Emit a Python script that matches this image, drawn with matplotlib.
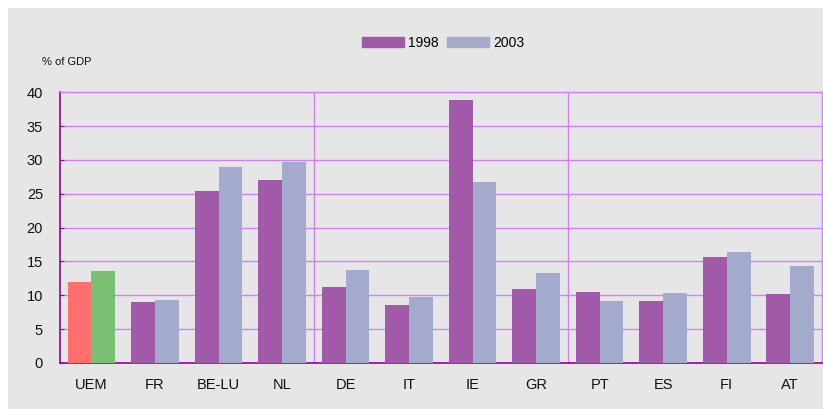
import numpy as np
import matplotlib.pyplot as plt
from matplotlib.patches import Rectangle, Patch

# Values
categories = ['UEM', 'FR', 'BE-LU', 'NL', 'DE', 'IT', 'IE', 'GR', 'PT', 'ES', 'FI', 'AT']
values_1998 = [12.0, 9.0, 25.4, 27.0, 11.2, 8.6, 38.9, 10.9, 10.5, 9.2, 15.7, 10.2]
values_2003 = [13.6, 9.3, 29.0, 29.7, 13.7, 9.8, 26.8, 13.3, 9.2, 10.4, 16.4, 14.4]
y_ticks = [0, 5, 10, 15, 20, 25, 30, 35, 40]
group_edges = [3.5, 7.5]

c_1998 = '#A05AA8'
c_2003 = '#A3AACC'
c_uem_1998 = '#FF6F6F'
c_uem_2003 = '#7AC074'
bg = '#E6E6E6'
grid_c = '#D080FF'
axis_c = '#990099'

plt.rcParams['font.family'] = ['Liberation Sans', 'DejaVu Sans']

fig = plt.figure(figsize=(8.23, 4.09), dpi=100)
fig.patch.set_facecolor('white')
fig.patches.append(Rectangle((8 / 823, 0), 815 / 823, 401 / 409,
                             transform=fig.transFigure, facecolor=bg,
                             edgecolor='none', zorder=-10))

ax = fig.add_axes([59.7 / 823, 1 - 363 / 409, (822 - 59.7) / 823, (363 - 92.3) / 409])
ax.set_facecolor(bg)

x = np.arange(len(categories))
w = 0.375
cols_98 = [c_uem_1998] + [c_1998] * (len(categories) - 1)
cols_03 = [c_uem_2003] + [c_2003] * (len(categories) - 1)
ax.bar(x - w / 2, values_1998, width=w, color=cols_98, zorder=3)
ax.bar(x + w / 2, values_2003, width=w, color=cols_03, zorder=3)

ax.set_xlim(-0.5, len(categories) - 0.5)
ax.set_ylim(0, 40)
ax.set_yticks(y_ticks)
ax.set_yticklabels([str(t) for t in y_ticks], fontsize=10.5, color='#111111')
ax.yaxis.grid(True, color=grid_c, linewidth=1, zorder=1)
for gx in group_edges:
    ax.axvline(gx, color=grid_c, linewidth=1, zorder=1)

ax.set_xticks(x)
ax.set_xticklabels(categories, fontsize=10.5, color='#111111')
ax.tick_params(axis='x', length=0, pad=11)
ax.tick_params(axis='y', direction='in', length=3, color=axis_c, pad=12)

for side in ['left', 'bottom']:
    ax.spines[side].set_color(axis_c)
    ax.spines[side].set_linewidth(1.2)
for side in ['top', 'right']:
    ax.spines[side].set_color(grid_c)
    ax.spines[side].set_linewidth(1)

fig.text(42 / 823, 1 - 62 / 409, '% of GDP', fontsize=8, va='center', ha='left', color='#111111')

handles = [Patch(color=c_1998, label='1998'), Patch(color=c_2003, label='2003')]
fig.legend(handles=handles, loc='center', bbox_to_anchor=(443 / 823, 1 - 42.7 / 409),
           ncol=2, frameon=False, fontsize=10, handlelength=3.0, handleheight=0.75,
           handletextpad=0.3, columnspacing=0.6, borderpad=0)

fig.savefig('out.png', dpi=100, facecolor=fig.get_facecolor())
